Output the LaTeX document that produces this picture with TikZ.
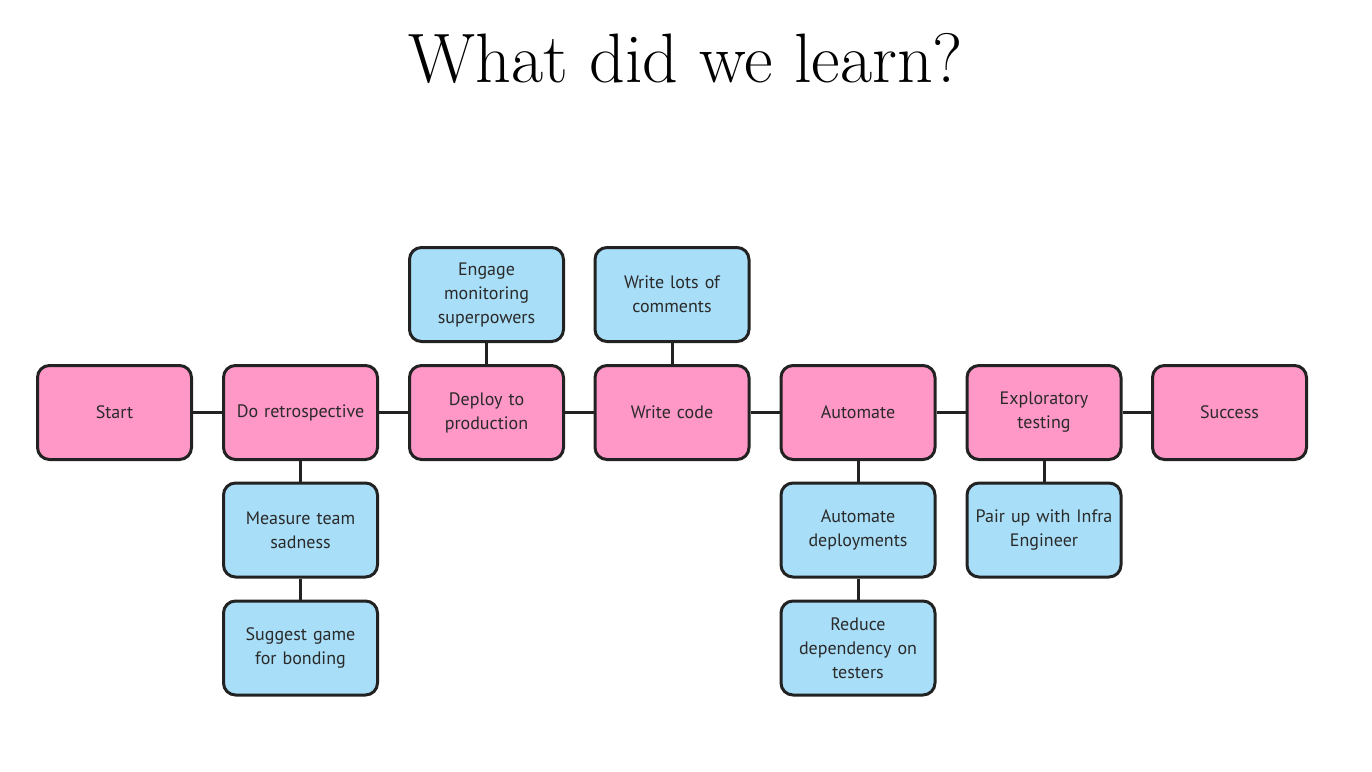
\documentclass[tikz,border=0pt]{standalone}
\usepackage{fontspec}
\setmainfont{PT Sans}
\newfontfamily\titlefont{Latin Modern Roman}
\definecolor{pinkfill}{HTML}{FF97C7}
\definecolor{bluefill}{HTML}{A8DEF8}
\definecolor{edge}{HTML}{222222}
\definecolor{txt}{HTML}{2A2A2A}
\begin{document}
\begin{tikzpicture}[x=1pt,y=-1pt,
  box/.style={draw=edge,line width=3pt,rounded corners=12pt,minimum width=154pt,minimum height=94pt,
    align=center,text width=140pt,font=\fontsize{18}{24}\selectfont,text=txt,inner sep=0pt},
  pinkbox/.style={box,fill=pinkfill},
  bluebox/.style={box,fill=bluefill},
  link/.style={draw=edge,line width=3pt}]
\useasboundingbox (0,0) rectangle (1372,771);
\node[font=\titlefont\fontsize{70}{80}\selectfont,text=black] (title) at (686,58) {What did we learn?};
% main row
\node[pinkbox] (start) at (114.5,412.5) {Start};
\node[pinkbox] (retro) at (300.5,412.5) {Do retrospective};
\node[pinkbox] (deploy) at (486.5,412.5) {Deploy to\\production};
\node[pinkbox] (code) at (672,412.5) {Write code};
\node[pinkbox] (auto) at (858,412.5) {Automate};
\node[pinkbox] (explore) at (1044,412.5) {Exploratory\\testing};
\node[pinkbox] (success) at (1229.5,412.5) {Success};
% top
\node[bluebox] (engage) at (486.5,294.5) {Engage\\monitoring\\superpowers};
\node[bluebox] (comments) at (672,294.5) {Write lots of\\comments};
% below
\node[bluebox] (measure) at (300.5,530) {Measure team\\sadness};
\node[bluebox] (game) at (300.5,648) {Suggest game\\for bonding};
\node[bluebox] (autodep) at (858,530) {Automate\\deployments};
\node[bluebox] (reduce) at (858,648) {Reduce\\dependency on\\testers};
\node[bluebox] (pair) at (1044,530) {Pair up with Infra\\Engineer};
% connectors
\draw[link] (start) -- (retro);
\draw[link] (retro) -- (deploy);
\draw[link] (deploy) -- (code);
\draw[link] (code) -- (auto);
\draw[link] (auto) -- (explore);
\draw[link] (explore) -- (success);
\draw[link] (engage) -- (deploy);
\draw[link] (comments) -- (code);
\draw[link] (retro) -- (measure);
\draw[link] (measure) -- (game);
\draw[link] (auto) -- (autodep);
\draw[link] (autodep) -- (reduce);
\draw[link] (explore) -- (pair);
\end{tikzpicture}
\end{document}
